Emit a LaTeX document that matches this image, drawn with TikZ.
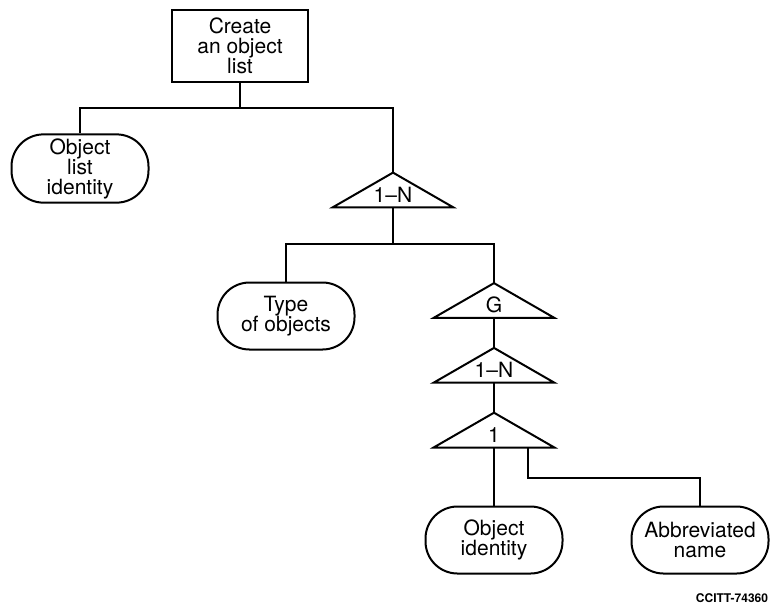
\documentclass[tikz,border=0pt]{standalone}
\usepackage{fontspec}
\setmainfont{TeX Gyre Heros}
\usetikzlibrary{positioning}
\tikzstyle{action} = [rectangle, draw=black, line width=1pt, minimum width=68pt, minimum height=36pt, align=center, inner sep=2pt]
\tikzstyle{item} = [rectangle, draw=black, line width=1pt, rounded corners=16pt, minimum width=68.5pt, minimum height=33.5pt, align=center, inner sep=2pt]
\tikzstyle{choice} = [rectangle, minimum width=60pt, inner sep=0pt, text height=14.5pt, text depth=2.5pt]
\tikzstyle{link} = [line width=1pt]

\begin{document}
\begin{tikzpicture}[x=0.5pt, y=-0.5pt, font=\fontsize{10.5}{10}\selectfont, node distance=15pt]
    \useasboundingbox (0,0) rectangle (771,607);

    % Root
    \node (create) [action] at (240,46) {Create\\an object\\list};

    % Level 1
    \node (listid) [item] at (80,168.5) {Object\\list\\identity};
    \node (rep1) [choice] at (393,190) {1--N};

    % Level 2
    \node (types) [item] at (286,316) {Type\\of objects};
    \node (group) [choice] at (494,300.5) {G};
    \node (rep2) [choice, below=of group] {1--N};
    \node (single) [choice, below=of rep2] {1};

    % Level 3
    \node (objid) [item, below=29pt of single] {Object\\identity};
    \node (abbr) [item] at (700,540) {Abbreviated\\name};

    % Figure number
    \node (fignum) at (732,598) [font=\fontsize{6}{7}\selectfont\bfseries] {CCITT-74360};

    % Triangles
    \foreach \t in {rep1,group,rep2,single}
        \draw [link] (\t.south west) -- (\t.north) -- (\t.south east) -- cycle;

    % Lines
    \coordinate (bus1) at (240,108);
    \coordinate (bus2) at (393,244);
    \coordinate (bus3) at (528,478);
    \draw [link] (create) -- (bus1);
    \draw [link] (listid.north) |- (bus1) -| (rep1.north);
    \draw [link] (rep1.south) -- (bus2);
    \draw [link] (types.north) |- (bus2) -| (group.north);
    \draw [link] (group.south) -- (rep2.north);
    \draw [link] (rep2.south) -- (single.north);
    \draw [link] (single.south) -- (objid.north);
    \draw [link] (bus3 |- single.south) -- (bus3) -| (abbr.north);
\end{tikzpicture}
\end{document}
